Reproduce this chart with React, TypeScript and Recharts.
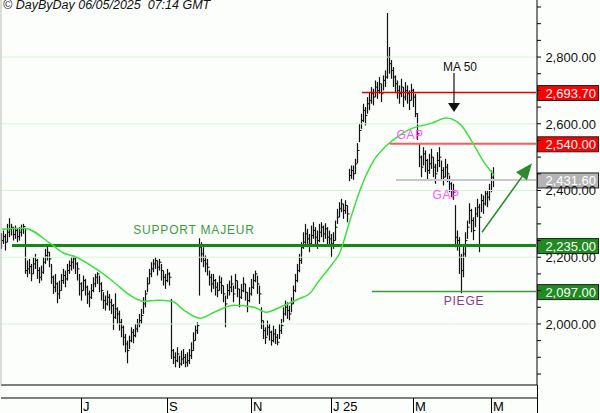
import { ComposedChart, Bar, Line, XAxis, YAxis, ReferenceLine, ReferenceDot } from 'recharts';

// daily bars, index 0 = early May 2024, last = 06/05/2025
const closes = [
  2250, 2262, 2245, 2275, 2285, 2290, 2268, 2280, 2262, 2275, 2285, 2292,
  2160,
  2165, 2172, 2150, 2180, 2190, 2160, 2140, 2155,
  2185, 2205, 2215, 2195,
  2140, 2110, 2120, 2090, 2100,
  2130, 2145, 2135, 2160, 2175, 2185,
  2195, 2180, 2165,
  2120, 2100, 2130, 2110, 2090, 2080, 2100, 2120,
  2140, 2150, 2120, 2100,
  2070, 2060, 2080, 2065, 2055,
  2020, 2045,
  2030, 2005, 1990, 1960, 1940,
  1920,
  1950, 1975, 1965, 1985, 2000, 2010, 2025,
  2060, 2090,
  2120, 2150, 2165, 2180, 2190, 2170, 2185, 2160, 2140, 2130, 2150, 2140,
  1920,
  1900, 1890, 1910, 1880, 1895, 1900, 1885, 1890, 1905,
  1920, 1950, 1980, 1995,
  2230,
  2210, 2190, 2180, 2170,
  2140, 2120, 2130, 2110, 2100, 2125, 2115,
  2090, 2060, 2100,
  2110, 2120, 2090, 2130, 2105, 2080, 2100, 2120, 2095, 2070, 2090, 2110, 2130, 2150, 2120, 2090,
  2010, 1980, 1960, 1990, 1975, 1950, 1970, 1960, 1945, 1980, 1995,
  2030, 2050, 2040, 2030, 2060,
  2100, 2130, 2160, 2190, 2230,
  2245, 2270, 2255, 2240, 2265, 2280, 2260, 2250, 2275, 2290, 2270, 2285, 2260, 2255, 2240, 2250, 2290,
  2320, 2345, 2360, 2340, 2355, 2330,
  2445, 2460, 2450, 2480,
  2520,
  2580, 2610, 2640, 2625, 2660,
  2670, 2690, 2680, 2710, 2700, 2720, 2690, 2730, 2740,
  2800,
  2780,
  2760, 2740, 2720, 2700,
  2690, 2710, 2680, 2700, 2690, 2670, 2700, 2680,
  2630,
  2570,
  2500, 2470, 2510, 2490, 2460, 2480, 2500, 2470, 2450, 2490, 2500, 2460, 2440, 2470, 2450,
  2420, 2400, 2395,
  2260,
  2250, 2200, 2160, 2210, 2250,
  2290, 2340, 2310, 2280, 2330,
  2350, 2320, 2370, 2360, 2390, 2380, 2400,
  2440, 2431.6,
];

const highs = [
  2272, 2280, 2270, 2300, 2317, 2300, 2290, 2295, 2285, 2290, 2298, 2300,
  2285,
  2190, 2195, 2180, 2200, 2210, 2195, 2170, 2175,
  2200, 2225, 2232, 2215,
  2180, 2145, 2150, 2125, 2130,
  2150, 2165, 2160, 2180, 2190, 2200,
  2205, 2200, 2185,
  2150, 2125, 2145, 2135, 2115, 2100, 2120, 2140,
  2150, 2155, 2145, 2125,
  2095, 2085, 2100, 2090, 2075,
  2060, 2092,
  2050, 2040, 2015, 1995, 1970,
  1950,
  1965, 1990, 1985, 2000, 2015, 2030, 2045,
  2080, 2101,
  2140, 2165, 2185, 2194, 2200, 2190, 2195, 2180, 2160, 2150, 2165, 2155,
  2075,
  1925, 1915, 1930, 1905, 1920, 1925, 1910, 1915, 1925,
  1945, 1975, 1995, 2005,
  2257,
  2245, 2230, 2205, 2195,
  2160, 2150, 2150, 2135, 2125, 2145, 2140,
  2115, 2085, 2120,
  2130, 2145, 2115, 2150, 2130, 2105, 2120, 2140, 2120, 2095, 2110, 2135, 2150, 2160, 2145, 2115,
  2050, 2010, 1990, 2010, 2000, 1980, 1995, 1985, 1970, 2000, 2015,
  2050, 2070, 2065, 2055, 2080,
  2115, 2150, 2180, 2210, 2245,
  2275, 2300, 2285, 2270, 2295, 2305, 2290, 2280, 2300, 2305, 2295, 2302, 2290, 2280, 2270, 2275, 2310,
  2345, 2365, 2375, 2360, 2371, 2355,
  2465, 2475, 2475, 2495,
  2542,
  2600, 2630, 2660, 2650, 2680,
  2695, 2710, 2705, 2730, 2725, 2740, 2720, 2745, 2760,
  2932,
  2830,
  2791, 2770, 2745, 2730,
  2715, 2735, 2710, 2725, 2715, 2700, 2720, 2705,
  2690,
  2632,
  2542, 2505, 2530, 2520, 2495, 2510, 2525, 2500, 2480, 2515, 2530, 2490, 2470, 2495, 2480,
  2445, 2425, 2420,
  2356,
  2280, 2260, 2210, 2240, 2275,
  2310, 2362, 2345, 2320, 2350,
  2375, 2360, 2390, 2385, 2401, 2400, 2420,
  2460, 2470,
];

const lows = [
  2225, 2240, 2220, 2245, 2260, 2265, 2250, 2255, 2245, 2250, 2262, 2270,
  2150,
  2140, 2150, 2128, 2150, 2165, 2135, 2122, 2130,
  2150, 2180, 2190, 2170,
  2120, 2090, 2095, 2062, 2075,
  2100, 2120, 2110, 2130, 2150, 2160,
  2165, 2150, 2130,
  2085, 2070, 2100, 2085, 2060, 2050, 2075, 2095,
  2110, 2120, 2095, 2070,
  2045, 2040, 2055, 2040, 2030,
  1982, 2015,
  2000, 1980, 1960, 1935, 1915,
  1882,
  1925, 1945, 1942, 1960, 1975, 1990, 2000,
  2030, 2050,
  2095, 2120, 2140, 2155, 2165, 2145, 2160, 2130, 2115, 2105, 2125, 2115,
  1895,
  1880, 1870, 1885, 1868, 1875, 1880, 1870, 1872, 1880,
  1895, 1920, 1950, 1970,
  2085,
  2185, 2170, 2155, 2145,
  2115, 2095, 2105, 2085, 2080, 2100, 2090,
  2065, 1990, 2075,
  2085, 2095, 2065, 2105, 2080, 2050, 2075, 2095, 2070, 2035, 2065, 2085, 2105, 2125, 2090, 2060,
  1985, 1955, 1940, 1965, 1950, 1935, 1945, 1940, 1936, 1955, 1970,
  2005, 2025, 2015, 2011, 2035,
  2060, 2095, 2125, 2155, 2180,
  2225, 2240, 2230, 2215, 2235, 2255, 2235, 2225, 2245, 2260, 2245, 2255, 2235, 2230, 2200, 2225, 2250,
  2300, 2320, 2335, 2315, 2330, 2305,
  2428, 2435, 2432, 2450,
  2482,
  2545, 2585, 2605, 2595, 2630,
  2641, 2660, 2655, 2680, 2675, 2690, 2665, 2700, 2710,
  2735,
  2750,
  2735, 2710, 2695, 2675,
  2660, 2680, 2650, 2670, 2660, 2641, 2670, 2650,
  2620,
  2551,
  2470, 2440, 2475, 2455, 2431, 2450, 2465, 2440, 2420, 2455, 2470, 2430, 2415, 2440, 2425,
  2395, 2380, 2372,
  2230,
  2220, 2150, 2092, 2140, 2200,
  2255, 2300, 2275, 2251, 2290,
  2320, 2215, 2335, 2330, 2355, 2350, 2370,
  2395, 2410,
];

// MA 50 at these bar indices
const maIndex = [0, 11, 24, 31, 36, 48, 56, 64, 71, 78, 85, 91, 99, 106, 116, 126, 132, 140, 148, 154, 158, 165, 169, 174, 179, 186, 192, 199, 203, 215, 222, 229, 236, 241, 246];
const maValue = [2284, 2287, 2242, 2212, 2203, 2161, 2125, 2086, 2068, 2071, 2068, 2041, 2017, 2035, 2056, 2050, 2035, 2053, 2074, 2092, 2125, 2179, 2215, 2311, 2401, 2491, 2533, 2566, 2581, 2602, 2617, 2599, 2536, 2485, 2446];

const monthTicks: Record<number, string> = { 40: 'J', 83: 'S', 125: 'N', 165: 'J 25', 206: 'M', 245: 'M' };
const gridLevels = [2000, 2200, 2400, 2600, 2800];
const yTicks = Array.from({ length: 23 }, (_, k) => 1850 + k * 50);

const SLOTS = 268;
const FONT = '"Liberation Sans", Arial, sans-serif';

const data = Array.from({ length: SLOTS }, (_, i) => {
  const k = maIndex.indexOf(i);
  return {
    i,
    hl: i < closes.length ? [lows[i], highs[i]] : null,
    close: i < closes.length ? closes[i] : null,
    ma: k >= 0 ? maValue[k] : null,
  };
});

const fmt = (v: number) => v.toLocaleString('en-US', { minimumFractionDigits: 2, maximumFractionDigits: 2 });

const HLCBar = (p: any) => {
  const { x, y, width, height, payload } = p;
  if (!payload || payload.close == null) return null;
  const top = Math.min(y, y + height);
  const h = Math.abs(height);
  const [lo, hi] = payload.hl;
  const cx = Math.round(x + width / 2) - 0.5;
  const yc = hi === lo ? top : top + ((hi - payload.close) / (hi - lo)) * h;
  return (
    <g>
      <line x1={cx} x2={cx} y1={top} y2={top + h} stroke="#111" strokeWidth={1.2} />
      <line x1={cx} x2={cx + 2} y1={yc} y2={yc} stroke="#111" strokeWidth={1} />
    </g>
  );
};

const RightTick = (p: any) => {
  const { x, y, payload } = p;
  const v = payload.value;
  const major = v % 200 === 0;
  return (
    <g>
      <line x1={x} x2={x + 4} y1={y} y2={y} stroke="#000" />
      {major && (
        <text x={x + 59} y={y + 5} textAnchor="end" fontSize={13} fontFamily={FONT} fill="#111">
          {fmt(v)}
        </text>
      )}
    </g>
  );
};

const MonthTick = (p: any) => {
  const { x, y, payload } = p;
  const label = monthTicks[payload.value];
  if (payload.value === SLOTS - 1) {
    return <line x1={x + 1.5} x2={x + 1.5} y1={y - 13} y2={y + 15} stroke="#000" />;
  }
  if (!label) return null;
  return (
    <g>
      <line x1={x - 0.5} x2={x - 0.5} y1={y} y2={y + 15} stroke="#000" />
      <text x={x + 1} y={y + 13} fontSize={13} fontFamily={FONT} fill="#000">{label}</text>
    </g>
  );
};

const priceBox = (fill: string, v: number) => (p: any) => (
  <g>
    <rect x={p.cx + 1.5} y={p.cy - 7} width={61} height={15} fill={fill} stroke="#222" strokeWidth={1} />
    <text x={p.cx + 60} y={p.cy + 5} textAnchor="end" fill="#fff" fontSize={13} fontFamily={FONT}>{fmt(v)}</text>
  </g>
);

const note = (text: string, color: string, size = 12, spacing = 0) => (p: any) => (
  <text x={p.cx} y={p.cy + 4} textAnchor="middle" fill={color} fontSize={size} fontFamily={FONT} letterSpacing={spacing}>
    {text}
  </text>
);

const DownArrow = (p: any) => (
  <g>
    <line x1={p.cx} x2={p.cx} y1={p.cy} y2={p.cy + 32} stroke="#111" strokeWidth={1.2} />
    <polygon points={`${p.cx - 6},${p.cy + 30} ${p.cx + 6},${p.cy + 30} ${p.cx},${p.cy + 39}`} fill="#111" />
  </g>
);

const GreenHead = (p: any) => (
  <polygon points={`${p.cx},${p.cy} ${p.cx - 5},${p.cy + 17} ${p.cx - 16},${p.cy + 9}`} fill="#2b8a2b" />
);

const levels = [
  { v: 2693.7, from: 180, color: '#e00000', w: 1.5, box: '#ff0000' },
  { v: 2540, from: 194, color: '#ff5a5a', w: 2, box: '#ff0000' },
  { v: 2431.6, from: 197, color: '#c8c8c8', w: 2, box: '#b4b4b4' },
  { v: 2235, from: 5, color: '#128a12', w: 3, box: '#1e8c1e' },
  { v: 2097, from: 185, color: '#3a9a3a', w: 1.5, box: '#1e8c1e' },
];

export default function App() {
  return (
    <div style={{ position: 'absolute', left: 0, top: 0, width: 600, height: 413, background: '#fcfefc', overflow: 'hidden' }}>
      <div style={{ position: 'absolute', left: 3, top: -2, fontSize: 12.5, fontStyle: 'italic', fontFamily: FONT, color: '#111', whiteSpace: 'pre' }}>
        © DayByDay 06/05/2025  07:14 GMT
      </div>
      <ComposedChart width={600} height={413} data={data} margin={{ top: 0, right: 0, bottom: 0, left: 0 }}>
        <XAxis dataKey="i" type="category" height={13} tick={false} tickLine={false} axisLine={{ stroke: '#000' }} />
        <XAxis
          xAxisId="m"
          dataKey="i"
          type="category"
          height={15}
          interval={0}
          tickSize={0}
          tickMargin={0}
          tickLine={false}
          axisLine={{ stroke: '#000' }}
          tick={MonthTick}
        />
        <YAxis yAxisId="left" orientation="left" width={1} tick={false} tickLine={false} axisLine={{ stroke: '#b8b8b8' }} domain={[1817, 2971]} />
        <YAxis
          orientation="right"
          width={63}
          type="number"
          domain={[1817, 2971]}
          allowDataOverflow
          ticks={yTicks}
          interval={0}
          tickSize={0}
          tickMargin={0}
          tickLine={false}
          axisLine={{ stroke: '#000' }}
          tick={RightTick}
        />
        {gridLevels.map((g) => (
          <ReferenceLine key={g} y={g} stroke="#d6f4d6" strokeWidth={1} />
        ))}
        {levels.map((l) => (
          <ReferenceLine
            key={l.v}
            segment={[{ x: l.from, y: l.v }, { x: SLOTS - 1, y: l.v }]}
            stroke={l.color}
            strokeWidth={l.w}
          />
        ))}
        <ReferenceLine segment={[{ x: 240, y: 2275 }, { x: 262, y: 2458 }]} stroke="#2b8a2b" strokeWidth={1.5} />
        <Line dataKey="ma" type="monotone" stroke="#3ee03e" strokeWidth={1.5} dot={false} connectNulls isAnimationActive={false} />
        <Bar dataKey="hl" shape={HLCBar} isAnimationActive={false} />
        <ReferenceDot x={265} y={2482} r={0} shape={GreenHead} />
        <ReferenceDot x={96} y={2281} r={0} shape={note('SUPPORT MAJEUR', '#3c9c3c', 12, 0.8)} />
        <ReferenceDot x={229} y={2770} r={0} shape={note('MA 50', '#111')} />
        <ReferenceDot x={226} y={2752} r={0} shape={DownArrow} />
        <ReferenceDot x={204} y={2566} r={0} shape={note('GAP', '#ff55ff', 12, 0.5)} />
        <ReferenceDot x={222} y={2386} r={0} shape={note('GAP', '#ff55ff', 12, 0.5)} />
        <ReferenceDot x={231} y={2068} r={0} shape={note('PIEGE', '#8b3a8b', 12, 0.8)} />
        {levels.map((l) => (
          <ReferenceDot key={'b' + l.v} x={SLOTS - 1} y={l.v} r={0} shape={priceBox(l.box, l.v)} />
        ))}
      </ComposedChart>
    </div>
  );
}
